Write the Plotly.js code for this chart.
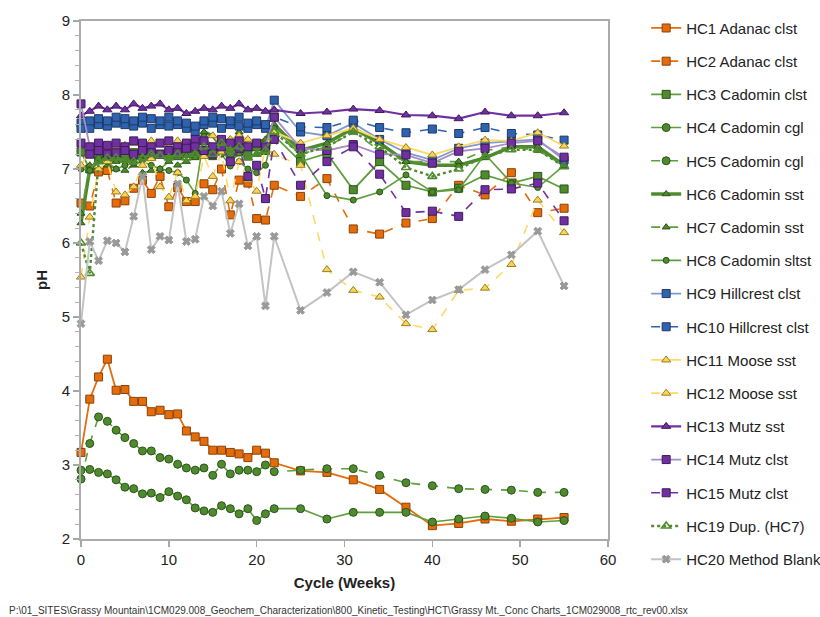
<!DOCTYPE html>
<html>
<head>
<meta charset="utf-8">
<script src="https://cdn.plot.ly/plotly-3.0.1.min.js"></script>
<style>
  html, body { margin: 0; padding: 0; background: #fff; }
  #chart { width: 820px; height: 617px; }
</style>
</head>
<body>
<div id="chart"></div>
<script>
// ---- data ----
const weeks = [0,1,2,3,4,5,6,7,8,9,10,11,12,13,14,15,16,17,18,19,20,21,22,25,28,31,34,37,40,43,46,49,52,55];

const seriesNames = ["HC1 Adanac clst","HC2 Adanac clst","HC3 Cadomin clst","HC4 Cadomin cgl","HC5 Cadomin cgl",
  "HC6 Cadomin sst","HC7 Cadomin sst","HC8 Cadomin sltst","HC9 Hillcrest clst","HC10 Hillcrest clst",
  "HC11 Moose sst","HC12 Moose sst","HC13 Mutz sst","HC14 Mutz clst","HC15 Mutz clst","HC19 Dup. (HC7)","HC20 Method Blank"];

const hc1  = [3.17,3.89,4.19,4.43,4.01,4.02,3.86,3.86,3.72,3.74,3.68,3.69,3.46,3.38,3.32,3.20,3.20,3.17,3.15,3.10,3.20,3.16,3.03, 2.92,2.90,2.80,2.67,2.43,2.18,2.21,2.27,2.24,2.27,2.29];
const hc2  = [6.54,6.50,6.96,6.98,6.54,6.57,6.74,6.85,6.67,6.90,6.49,6.75,6.56,6.56,6.80,6.72,7.00,6.38,6.85,6.81,6.33,6.31,6.78, 6.63,6.87,6.19,6.12,6.27,6.33,6.78,6.65,6.95,6.41,6.47];
const hc3  = [7.23,7.00,7.15,7.20,7.15,7.20,7.22,7.20,7.18,7.20,7.22,7.18,7.25,7.20,7.25,7.28,7.30,7.22,7.25,7.20,7.30,7.25,7.45, 7.10,7.21,6.72,7.10,6.78,6.69,6.74,6.92,6.81,6.90,6.73];
const hc4  = [2.93,2.94,2.90,2.88,2.80,2.70,2.68,2.61,2.62,2.56,2.64,2.58,2.53,2.42,2.38,2.36,2.45,2.41,2.34,2.41,2.25,2.34,2.41, 2.41,2.27,2.36,2.36,2.36,2.23,2.27,2.31,2.28,2.23,2.25];
const hc5  = [2.81,3.29,3.65,3.59,3.47,3.37,3.29,3.19,3.19,3.10,3.08,3.01,2.96,2.93,2.96,2.86,3.01,2.88,2.93,2.93,2.91,3.00,2.91, 2.93,2.95,2.95,2.86,2.76,2.72,2.68,2.67,2.66,2.63,2.63];
const hc6  = [6.27,7.00,7.10,7.15,7.10,7.12,7.15,7.18,7.15,7.20,7.15,7.20,7.18,7.25,7.50,7.45,7.30,7.25,7.50,7.30,7.35,7.40,7.60, 7.25,7.35,7.55,7.35,7.10,7.05,7.05,7.15,7.30,7.30,7.05];
const hc7  = [6.40,7.05,7.10,7.05,7.00,6.98,7.05,6.95,6.98,7.00,7.10,7.05,7.10,7.15,7.20,7.15,7.25,7.10,7.20,7.15,7.20,7.25,7.50, 7.20,7.30,7.50,7.25,7.10,7.10,7.10,7.25,7.30,7.25,7.05];
const hc8  = [7.00,6.98,7.15,7.10,7.00,7.05,7.08,7.10,7.05,7.00,6.98,6.95,6.85,6.67,7.44,7.30,7.20,7.04,7.10,7.00,6.95,7.05,7.55, 7.20,6.64,6.58,6.69,6.92,6.69,6.72,7.20,6.81,6.75,7.05];
const hc9  = [7.62,7.55,7.60,7.58,7.62,7.60,7.58,7.62,7.55,7.60,7.58,7.60,7.55,7.50,7.60,7.62,7.55,7.60,7.58,7.55,7.60,7.55,7.93, 7.50,7.45,7.62,7.40,7.22,7.12,7.28,7.35,7.38,7.40,7.12];
const hc10 = [7.55,7.65,7.68,7.65,7.70,7.68,7.65,7.70,7.68,7.65,7.70,7.65,7.62,7.58,7.65,7.70,7.68,7.65,7.70,7.62,7.65,7.60,7.70, 7.57,7.56,7.66,7.56,7.49,7.54,7.48,7.56,7.48,7.46,7.39];
const hc11 = [7.05,7.25,7.30,7.28,7.30,7.32,7.35,7.30,7.38,7.35,7.30,7.38,7.35,7.30,7.40,7.45,7.35,7.40,7.45,7.40,7.35,7.30,7.50, 7.35,7.45,7.55,7.40,7.29,7.19,7.30,7.39,7.38,7.49,7.31];
const hc12 = [5.54,6.35,7.00,7.10,6.69,6.65,6.76,7.05,7.14,6.76,6.62,6.95,6.57,6.63,7.17,6.90,7.23,6.57,7.10,6.85,6.70,7.30,7.20, 7.05,5.64,5.36,5.27,4.91,4.83,5.36,5.39,5.71,6.58,6.14];
const hc13 = [7.72,7.78,7.85,7.80,7.85,7.80,7.88,7.82,7.85,7.88,7.80,7.82,7.75,7.78,7.82,7.80,7.85,7.82,7.88,7.80,7.82,7.78,7.80, 7.75,7.77,7.81,7.79,7.73,7.72,7.68,7.77,7.72,7.72,7.76];
const hc14 = [7.88,7.30,7.35,7.32,7.35,7.30,7.38,7.35,7.30,7.35,7.38,7.30,7.35,7.40,7.38,7.30,7.40,7.35,7.38,7.30,7.35,7.30,7.70, 7.28,7.25,7.33,7.20,7.19,7.08,7.24,7.28,7.35,7.38,7.16];
const hc15 = [7.35,7.20,7.25,7.20,7.22,7.25,7.20,7.25,7.22,7.20,7.25,7.22,7.28,7.30,7.25,7.20,7.30,7.10,7.28,6.90,7.05,6.60,7.40, 6.78,7.10,7.30,6.93,6.41,6.43,6.36,6.72,6.73,6.81,6.30];
const hc19 = [6.00,5.59,7.10,7.15,7.15,7.12,7.10,7.15,7.20,7.18,7.15,7.20,7.15,7.20,7.30,7.20,7.35,7.25,7.30,7.15,7.20,7.25,7.50, 7.20,7.30,7.50,7.30,7.02,6.90,7.00,7.17,7.26,7.26,7.03];
const hc20 = [4.91,6.02,5.76,6.03,6.00,5.88,6.36,6.90,5.91,6.09,6.04,6.80,6.02,6.05,6.63,6.50,6.70,6.13,6.53,5.96,6.09,5.15,6.09, 5.09,5.33,5.61,5.47,5.03,5.23,5.37,5.64,5.84,6.16,5.42];

const allValues = [hc1,hc2,hc3,hc4,hc5,hc6,hc7,hc8,hc9,hc10,hc11,hc12,hc13,hc14,hc15,hc19,hc20];

const xTickVals = [0,10,20,30,40,50,60];
const yTickVals = [2,3,4,5,6,7,8,9];

// ---- styles ----
const OR = '#E46C0A', ORB = '#8A4208';
const GR = '#4F8B2E', GRL = '#5E9E3C', GRB = '#2B5418';
const BL = '#2E63B0', BLL = '#7C9BCB', BLB = '#1F3864';
const YE = '#F9D45C', YEL = '#FFD966', YEB = '#9C7E1C';
const PU = '#7030A0', PUL = '#A88BC9', PUB = '#3F1A5C';
const GY = '#C3C3C3', GYM = '#999999';

const styles = [
  {lc: OR,  lw: 1.8, dash: 'solid', sym: 'square', ms: 8, mc: OR, mb: ORB},
  {lc: OR,  lw: 1.6, dash: 'dash',  sym: 'square', ms: 8, mc: OR, mb: ORB},
  {lc: GRL, lw: 1.8, dash: 'solid', sym: 'square', ms: 8, mc: GR, mb: GRB},
  {lc: GRL, lw: 1.6, dash: 'solid', sym: 'circle', ms: 8, mc: GR, mb: GRB},
  {lc: GRL, lw: 1.6, dash: 'dash',  sym: 'circle', ms: 8, mc: GR, mb: GRB},
  {lc: GR,  lw: 3.5, dash: 'solid', sym: 'triangle-up', ms: 7, mc: GR, mb: GRB},
  {lc: GRL, lw: 1.6, dash: 'dash',  sym: 'triangle-up', ms: 7, mc: GR, mb: GRB},
  {lc: GRL, lw: 1.6, dash: 'solid', sym: 'circle', ms: 6, mc: GR, mb: GRB},
  {lc: BLL, lw: 1.8, dash: 'solid', sym: 'square', ms: 8, mc: BL, mb: BLB},
  {lc: BL,  lw: 1.6, dash: 'dash',  sym: 'square', ms: 8, mc: BL, mb: BLB},
  {lc: YEL, lw: 1.8, dash: 'solid', sym: 'triangle-up', ms: 8, mc: YE, mb: YEB},
  {lc: YEL, lw: 1.6, dash: 'dash',  sym: 'triangle-up', ms: 8, mc: YE, mb: YEB},
  {lc: PU,  lw: 2.2, dash: 'solid', sym: 'triangle-up', ms: 8, mc: PU, mb: PUB},
  {lc: PUL, lw: 1.8, dash: 'solid', sym: 'square', ms: 8, mc: PU, mb: PUB},
  {lc: PU,  lw: 1.6, dash: 'dash',  sym: 'square', ms: 8, mc: PU, mb: PUB},
  {lc: GR,  lw: 2.4, dash: 'dot',   sym: 'triangle-up-open', ms: 8, mc: GR, mb: GR},
  {lc: GY,  lw: 2.0, dash: 'solid', sym: 'x', ms: 7, mc: GYM, mb: GYM}
];

const traces = allValues.map((vals, i) => {
  const s = styles[i];
  return {
    type: 'scatter',
    mode: 'lines+markers',
    name: seriesNames[i],
    legendgroup: 'g' + i,
    x: weeks,
    y: vals,
    line: {color: s.lc, width: s.lw, dash: s.dash},
    marker: {symbol: s.sym, size: s.ms, color: s.mc,
             line: {color: s.mb, width: s.sym.indexOf('open') >= 0 ? 1.6 : 1}},
    cliponaxis: false
  };
});

const FONT = 'Arial, "Liberation Sans", sans-serif';

const layout = {
  width: 820, height: 617,
  margin: {l: 81, r: 212, t: 21, b: 78},
  paper_bgcolor: '#fff', plot_bgcolor: '#fff',
  font: {family: FONT, color: '#222'},
  showlegend: true,
  legend: {
    xref: 'container', yref: 'container',
    x: 0.788, xanchor: 'left', y: 0.981, yanchor: 'top',
    font: {family: FONT, size: 15, color: '#222'},
    tracegroupgap: 10.7,
    itemwidth: 30,
    maxheight: 610,
    bgcolor: 'rgba(0,0,0,0)'
  },
  xaxis: {
    range: [0, 60],
    tickvals: xTickVals,
    ticktext: xTickVals.map(String),
    ticks: 'outside', ticklen: 6, tickcolor: '#A6A6A6', tickwidth: 1.5,
    showgrid: false, zeroline: false,
    showline: true, linecolor: '#ABABAB', linewidth: 2, mirror: true,
    tickfont: {family: FONT, size: 15, color: '#222'},
    title: {text: '<b>Cycle (Weeks)</b>', font: {family: FONT, size: 15, color: '#222'}, standoff: 10}
  },
  yaxis: {
    range: [2, 9],
    tickvals: yTickVals,
    ticktext: yTickVals.map(String),
    ticks: 'outside', ticklen: 6, tickcolor: '#A6A6A6', tickwidth: 1.5,
    minor: {dtick: 0.2, ticks: 'outside', ticklen: 4, tickcolor: '#B5B5B5', tickwidth: 1, showgrid: false},
    showgrid: false, zeroline: false,
    showline: true, linecolor: '#ABABAB', linewidth: 2, mirror: true,
    tickfont: {family: FONT, size: 15, color: '#222'},
    title: {text: '<b>pH</b>', font: {family: FONT, size: 15, color: '#222'}, standoff: 10}
  },
  annotations: [{
    xref: 'paper', yref: 'paper', x: -0.14, y: -0.138, xanchor: 'left', yanchor: 'middle',
    showarrow: false,
    text: 'P:\\01_SITES\\Grassy Mountain\\1CM029.008_Geochem_Characterization\\800_Kinetic_Testing\\HCT\\Grassy Mt._Conc Charts_1CM029008_rtc_rev00.xlsx',
    font: {family: FONT, size: 10, color: '#333'}
  }]
};

Plotly.newPlot('chart', traces, layout, {displayModeBar: false, staticPlot: true});
</script>
</body>
</html>
